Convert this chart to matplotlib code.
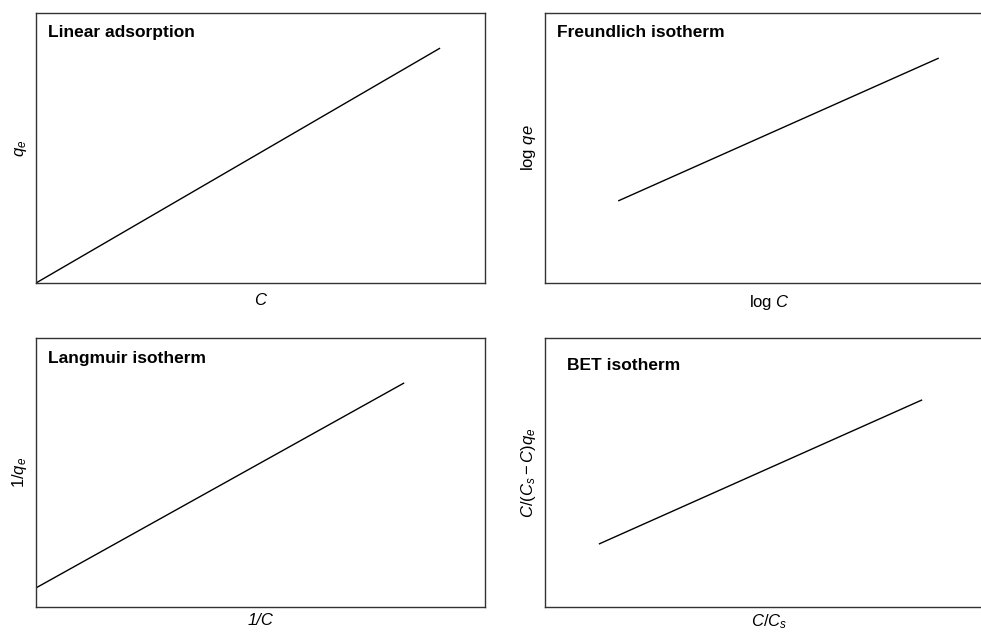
import matplotlib
matplotlib.use("Agg")
import matplotlib.pyplot as plt

plt.rcParams['font.family'] = ['Liberation Sans', 'DejaVu Sans']
plt.rcParams['mathtext.fontset'] = 'custom'
plt.rcParams['mathtext.rm'] = 'Liberation Sans'
plt.rcParams['mathtext.it'] = 'Liberation Sans:italic'
plt.rcParams['mathtext.bf'] = 'Liberation Sans:bold'

# Panel data (straight-line linearised isotherms, normalised axes 0..1)
titles = ["Linear adsorption", "Freundlich isotherm", "Langmuir isotherm", "BET isotherm"]
xlabels = ["C", r"log $C$", "1/C", r"$C/C_s$"]
xlabel_styles = ['italic', 'normal', 'italic', 'normal']
ylabels = [r"$q_e$", r"log $qe$", r"$1/q_e$", r"$C/(C_s - C)q_e$"]
linear_x = [0.0, 0.90]
linear_y = [0.0, 0.87]
freund_x = [0.163, 0.877]
freund_y = [0.304, 0.833]
langm_x = [0.0, 0.82]
langm_y = [0.071, 0.833]
bet_x = [0.12, 0.84]
bet_y = [0.234, 0.77]
xs = [linear_x, freund_x, langm_x, bet_x]
ys = [linear_y, freund_y, langm_y, bet_y]

W, H = 981, 632
fig = plt.figure(figsize=(W / 100, H / 100), dpi=100)

# axes boxes in pixels: (left, top, right, bottom)
boxes = [(36, 13, 485, 283), (545, 13, 994, 283), (36, 338, 485, 607), (545, 338, 994, 607)]

for i, (l, t, r, b) in enumerate(boxes):
    ax = fig.add_axes([l / W, 1 - b / H, (r - l) / W, (b - t) / H])
    ax.plot(xs[i], ys[i], color='black', lw=1.0, solid_capstyle='butt')
    ax.set_xlim(0, 1)
    ax.set_ylim(0, 1)
    ax.set_xticks([])
    ax.set_yticks([])
    for s in ax.spines.values():
        s.set_color('#333333')
        s.set_linewidth(1.0)
    tx = 12 / (r - l) if i != 3 else 22 / (r - l)
    ty = 1 - (20 / (b - t) if i != 3 else 27 / (b - t))
    ax.text(tx, ty, titles[i], transform=ax.transAxes, fontsize=12.5,
            fontweight='bold', va='center', ha='left', color='black')
    ax.set_xlabel(xlabels[i], fontsize=12, labelpad=(7 if i < 2 else 4),
                  fontstyle=xlabel_styles[i])
    ax.set_ylabel(ylabels[i], fontsize=12, labelpad=5)

fig.savefig("out.png", dpi=100)
